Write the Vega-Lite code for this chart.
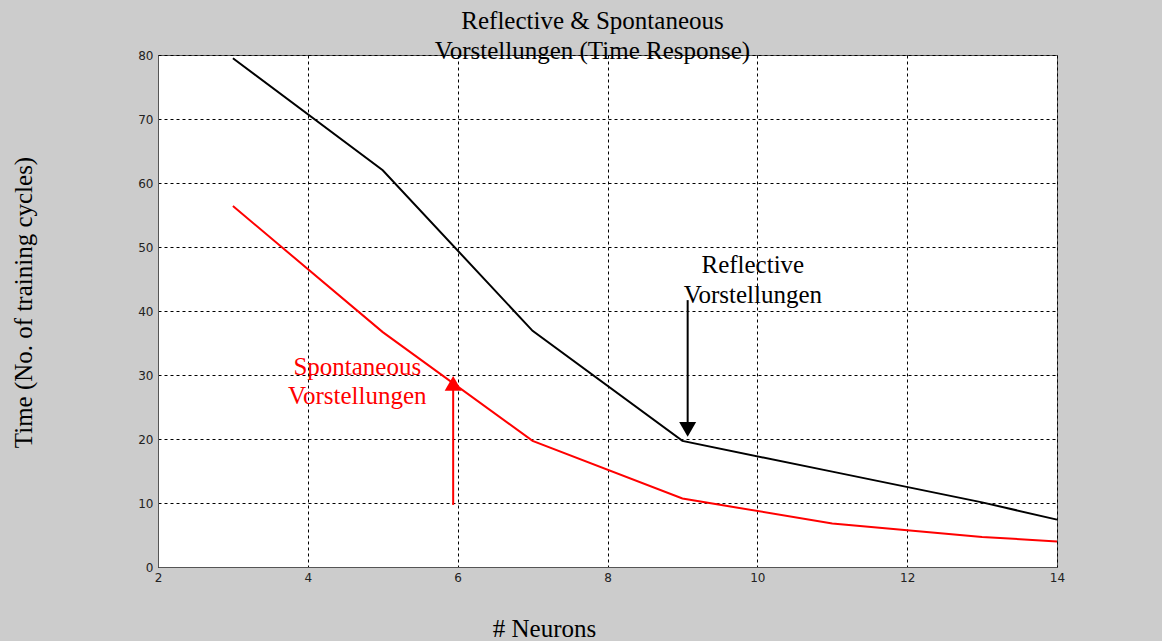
{
  "$schema": "https://vega.github.io/schema/vega-lite/v6.json",
  "width": 899,
  "height": 512,
  "autosize": {"type": "none"},
  "padding": {"left": 158, "top": 55, "right": 105, "bottom": 74},
  "background": "#cccccc",
  "title": {
    "text": ["Reflective & Spontaneous", "Vorstellungen (Time Response)"],
    "font": "Liberation Serif",
    "fontSize": 25,
    "fontWeight": "normal",
    "color": "#000000",
    "lineHeight": 30,
    "anchor": "middle",
    "offset": -15,
    "dx": -15
  },
  "config": {
    "view": {"fill": "white", "stroke": "#555555", "strokeWidth": 1},
    "axis": {
      "gridColor": "#000000",
      "gridDash": [3, 3],
      "gridWidth": 1,
      "gridOpacity": 1,
      "domainColor": "#555555",
      "labelFont": "DejaVu Sans",
      "labelFontSize": 12,
      "labelColor": "#222222",
      "labelFlush": false,
      "ticks": false,
      "labelPadding": 5,
      "titleFont": "Liberation Serif",
      "titleFontSize": 25,
      "titleFontWeight": "normal",
      "titleColor": "#000000"
    }
  },
  "encoding": {
    "x": {
      "field": "n",
      "type": "quantitative",
      "scale": {"domain": [2, 14], "nice": false, "zero": false},
      "axis": {
        "values": [2, 4, 6, 8, 10, 12, 14],
        "title": "# Neurons",
        "titleX": 386,
        "titleY": 69,
        "titleBaseline": "alphabetic",
        "titleAlign": "center"
      }
    },
    "y": {
      "field": "time",
      "type": "quantitative",
      "scale": {"domain": [0, 80], "nice": false},
      "axis": {
        "values": [0, 10, 20, 30, 40, 50, 60, 70, 80],
        "title": "Time (No. of training cycles)",
        "titleX": -127,
        "titleY": 247,
        "titleAngle": 270,
        "titleAlign": "center",
        "titleBaseline": "alphabetic"
      }
    },
    "color": {
      "field": "series",
      "type": "nominal",
      "scale": {"domain": ["Reflective", "Spontaneous"], "range": ["#000000", "#ff0000"]},
      "legend": null
    }
  },
  "layer": [
    {
      "data": {
        "values": [
          {"n": 3, "time": 79.5, "series": "Reflective"},
          {"n": 5, "time": 62.0, "series": "Reflective"},
          {"n": 7, "time": 36.9, "series": "Reflective"},
          {"n": 9, "time": 19.7, "series": "Reflective"},
          {"n": 11, "time": 14.9, "series": "Reflective"},
          {"n": 13, "time": 10.1, "series": "Reflective"},
          {"n": 14, "time": 7.4, "series": "Reflective"},
          {"n": 3, "time": 56.4, "series": "Spontaneous"},
          {"n": 5, "time": 36.7, "series": "Spontaneous"},
          {"n": 7, "time": 19.7, "series": "Spontaneous"},
          {"n": 9, "time": 10.7, "series": "Spontaneous"},
          {"n": 11, "time": 6.8, "series": "Spontaneous"},
          {"n": 13, "time": 4.7, "series": "Spontaneous"},
          {"n": 14, "time": 4.0, "series": "Spontaneous"}
        ]
      },
      "mark": {"type": "line", "strokeWidth": 2}
    },
    {
      "data": {
        "values": [
          {"n": 5.94, "time": 9.7, "time2": 28.0, "series": "Spontaneous"},
          {"n": 9.07, "time": 41.7, "time2": 22.5, "series": "Reflective"}
        ]
      },
      "mark": {"type": "rule", "strokeWidth": 2},
      "encoding": {"y2": {"field": "time2"}}
    },
    {
      "data": {
        "values": [
          {"n": 5.94, "time": 28.7, "shape": "triangle-up", "series": "Spontaneous"},
          {"n": 9.07, "time": 21.5, "shape": "triangle-down", "series": "Reflective"}
        ]
      },
      "mark": {"type": "point", "filled": true, "size": 289, "opacity": 1, "strokeWidth": 0},
      "encoding": {"shape": {"field": "shape", "type": "nominal", "scale": null}}
    },
    {
      "data": {
        "values": [
          {"n": 4.66, "time": 30.0, "label": "Spontaneous", "series": "Spontaneous"},
          {"n": 4.66, "time": 25.5, "label": "Vorstellungen", "series": "Spontaneous"},
          {"n": 9.94, "time": 45.9, "label": "Reflective", "series": "Reflective"},
          {"n": 9.94, "time": 41.3, "label": "Vorstellungen", "series": "Reflective"}
        ]
      },
      "mark": {"type": "text", "font": "Liberation Serif", "fontSize": 25, "align": "center", "baseline": "alphabetic"},
      "encoding": {"text": {"field": "label", "type": "nominal"}}
    }
  ]
}
